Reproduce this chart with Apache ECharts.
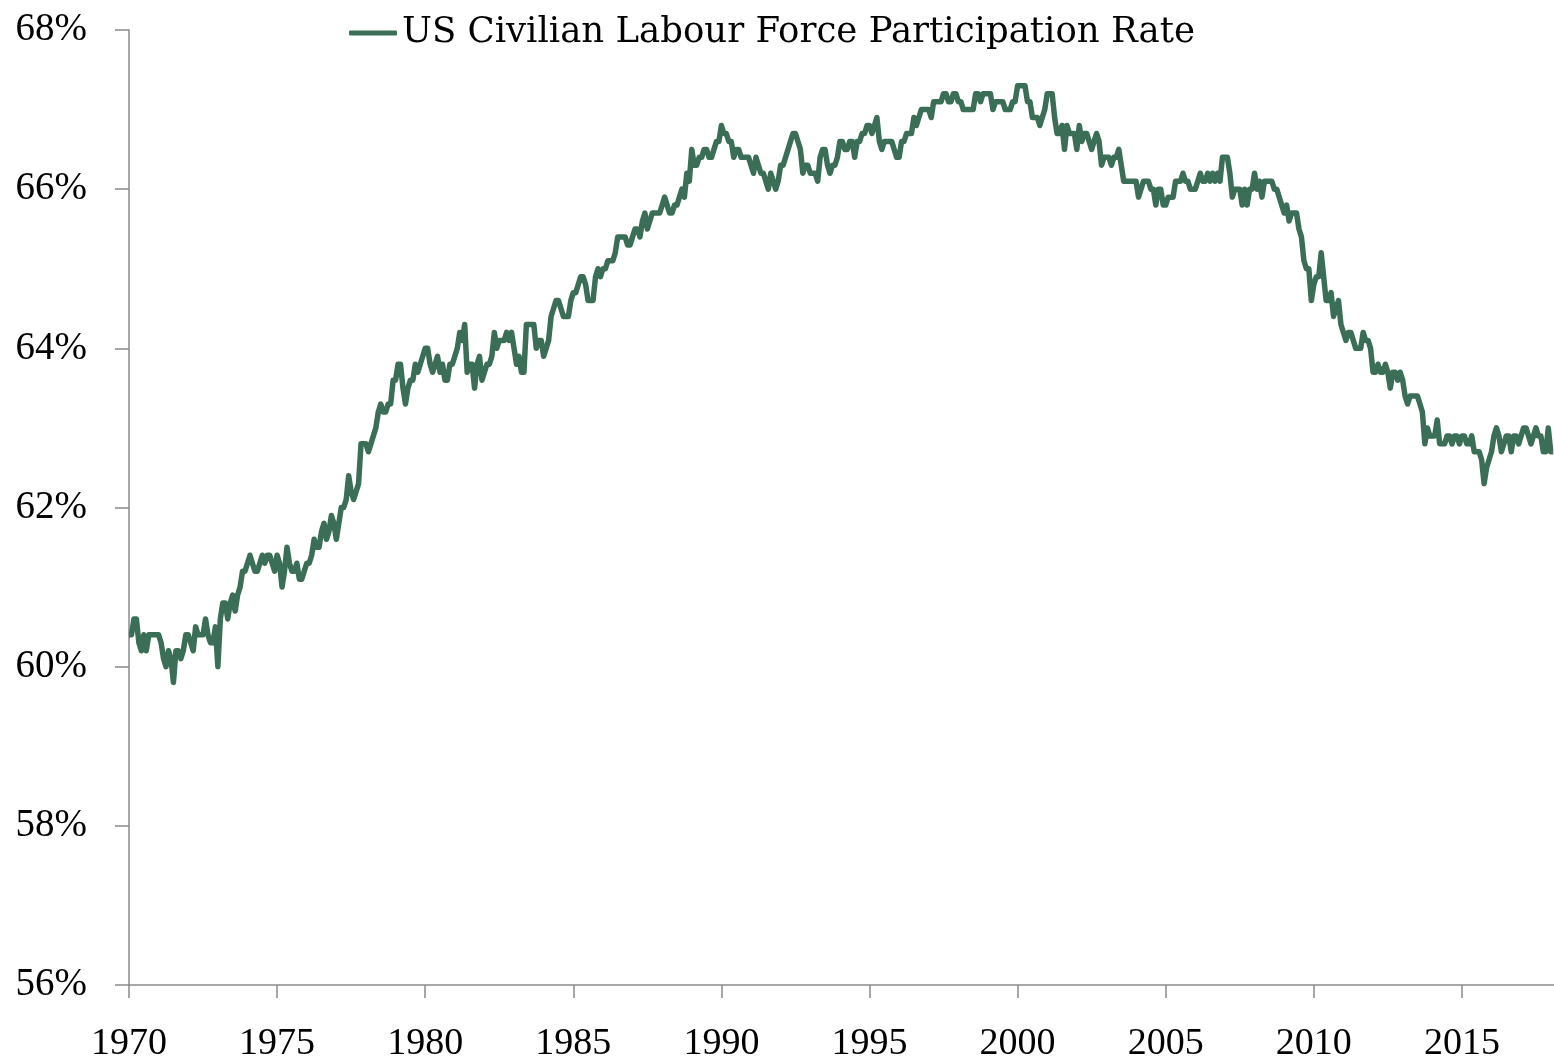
<!DOCTYPE html>
<html>
<head>
<meta charset="utf-8">
<script src="https://cdn.jsdelivr.net/npm/echarts@6/dist/echarts.min.js"></script>
<style>
  html, body { margin: 0; padding: 0; background: #fff; }
  #main { width: 1554px; height: 1063px; }
</style>
</head>
<body>
<div id="main"></div>
<script>
// Monthly participation rate (%), starting January 1970
var startYear = 1970;
var seriesName = 'US Civilian Labour Force Participation Rate';

var rate1970s = [
  60.4, 60.4, 60.6, 60.6, 60.3, 60.2, 60.4, 60.2, 60.4, 60.4, 60.4, 60.4,
  60.4, 60.3, 60.1, 60.0, 60.2, 60.1, 59.8, 60.2, 60.2, 60.1, 60.2, 60.4,
  60.4, 60.3, 60.2, 60.5, 60.4, 60.4, 60.4, 60.6, 60.4, 60.3, 60.3, 60.5,
  60.0, 60.6, 60.8, 60.8, 60.6, 60.8, 60.9, 60.7, 60.9, 61.0, 61.2, 61.2,
  61.3, 61.4, 61.3, 61.2, 61.2, 61.3, 61.4, 61.3, 61.4, 61.4, 61.3, 61.2,
  61.4, 61.3, 61.0, 61.2, 61.5, 61.3, 61.2, 61.2, 61.3, 61.1, 61.1, 61.2,
  61.3, 61.3, 61.4, 61.6, 61.5, 61.5, 61.7, 61.8, 61.6, 61.7, 61.9, 61.8,
  61.6, 61.8, 62.0, 62.0, 62.1, 62.4, 62.2, 62.1, 62.2, 62.3, 62.8, 62.8,
  62.8, 62.7, 62.8, 62.9, 63.0, 63.2, 63.3, 63.2, 63.2, 63.3, 63.3, 63.6,
  63.6, 63.8, 63.8, 63.5, 63.3, 63.5, 63.6, 63.6, 63.8, 63.7, 63.8, 63.9
];

var rate1980s = [
  64.0, 64.0, 63.8, 63.7, 63.8, 63.9, 63.7, 63.8, 63.6, 63.6, 63.8, 63.8,
  63.9, 64.0, 64.2, 64.1, 64.3, 63.7, 63.8, 63.8, 63.5, 63.8, 63.9, 63.6,
  63.7, 63.8, 63.8, 63.9, 64.2, 64.0, 64.1, 64.1, 64.1, 64.2, 64.1, 64.2,
  64.0, 63.8, 63.9, 63.7, 63.7, 64.3, 64.3, 64.3, 64.3, 64.0, 64.1, 64.1,
  63.9, 64.0, 64.1, 64.4, 64.5, 64.6, 64.6, 64.5, 64.4, 64.4, 64.4, 64.6,
  64.7, 64.7, 64.8, 64.9, 64.9, 64.8, 64.6, 64.6, 64.6, 64.9, 65.0, 64.9,
  65.0, 65.0, 65.1, 65.1, 65.1, 65.2, 65.4, 65.4, 65.4, 65.4, 65.3, 65.3,
  65.4, 65.5, 65.5, 65.4, 65.6, 65.7, 65.5, 65.6, 65.7, 65.7, 65.7, 65.7,
  65.8, 65.9, 65.8, 65.7, 65.7, 65.8, 65.8, 65.9, 66.0, 65.9, 66.2, 66.1,
  66.5, 66.3, 66.3, 66.4, 66.4, 66.5, 66.5, 66.4, 66.4, 66.5, 66.6, 66.6
];

var rate1990s = [
  66.8, 66.7, 66.7, 66.6, 66.6, 66.4, 66.5, 66.5, 66.4, 66.4, 66.4, 66.4,
  66.3, 66.2, 66.4, 66.3, 66.2, 66.2, 66.1, 66.0, 66.2, 66.1, 66.0, 66.1,
  66.3, 66.3, 66.4, 66.5, 66.6, 66.7, 66.7, 66.6, 66.5, 66.2, 66.3, 66.3,
  66.2, 66.2, 66.2, 66.1, 66.4, 66.5, 66.5, 66.3, 66.2, 66.3, 66.3, 66.4,
  66.6, 66.6, 66.5, 66.5, 66.6, 66.6, 66.4, 66.6, 66.6, 66.7, 66.7, 66.8,
  66.8, 66.7, 66.8, 66.9, 66.6, 66.5, 66.6, 66.6, 66.6, 66.6, 66.5, 66.4,
  66.4, 66.6, 66.6, 66.7, 66.7, 66.7, 66.9, 66.8, 66.9, 67.0, 67.0, 67.0,
  67.0, 66.9, 67.1, 67.1, 67.1, 67.1, 67.2, 67.2, 67.1, 67.1, 67.2, 67.2,
  67.1, 67.1, 67.0, 67.0, 67.0, 67.0, 67.0, 67.2, 67.2, 67.1, 67.2, 67.2,
  67.2, 67.2, 67.0, 67.1, 67.1, 67.1, 67.1, 67.0, 67.0, 67.0, 67.1, 67.1
];

var rate2000s = [
  67.3, 67.3, 67.3, 67.3, 67.1, 67.1, 66.9, 66.9, 66.9, 66.8, 66.9, 67.0,
  67.2, 67.2, 67.2, 66.9, 66.7, 66.7, 66.8, 66.5, 66.8, 66.7, 66.7, 66.7,
  66.5, 66.8, 66.6, 66.7, 66.7, 66.6, 66.5, 66.6, 66.7, 66.6, 66.3, 66.4,
  66.4, 66.4, 66.3, 66.4, 66.4, 66.5, 66.3, 66.1, 66.1, 66.1, 66.1, 66.1,
  66.1, 65.9, 66.0, 66.1, 66.1, 66.1, 66.0, 66.0, 65.8, 66.0, 66.0, 65.8,
  65.8, 65.9, 65.9, 65.9, 66.1, 66.1, 66.1, 66.2, 66.1, 66.1, 66.0, 66.0,
  66.0, 66.1, 66.2, 66.1, 66.1, 66.2, 66.1, 66.2, 66.1, 66.2, 66.1, 66.4,
  66.4, 66.4, 66.2, 65.9, 66.0, 66.0, 66.0, 65.8, 66.0, 65.8, 66.0, 66.0,
  66.2, 66.0, 66.1, 65.9, 66.1, 66.1, 66.1, 66.1, 66.0, 66.0, 65.9, 65.8,
  65.7, 65.8, 65.6, 65.7, 65.7, 65.7, 65.5, 65.4, 65.1, 65.0, 65.0, 64.6
];

var rate2010s = [
  64.8, 64.9, 64.9, 65.2, 64.9, 64.6, 64.6, 64.7, 64.4, 64.5, 64.6, 64.3,
  64.2, 64.1, 64.2, 64.2, 64.1, 64.0, 64.0, 64.0, 64.2, 64.1, 64.1, 64.0,
  63.7, 63.7, 63.8, 63.7, 63.7, 63.8, 63.7, 63.5, 63.7, 63.7, 63.6, 63.7,
  63.6, 63.4, 63.3, 63.4, 63.4, 63.4, 63.4, 63.3, 63.2, 62.8, 63.0, 62.9,
  62.9, 62.9, 63.1, 62.8, 62.8, 62.8, 62.9, 62.9, 62.8, 62.9, 62.9, 62.8,
  62.9, 62.9, 62.8, 62.8, 62.9, 62.7, 62.7, 62.7, 62.6, 62.3, 62.5, 62.6,
  62.7, 62.9, 63.0, 62.9, 62.7, 62.8, 62.9, 62.9, 62.7, 62.9, 62.9, 62.8,
  62.9, 63.0, 63.0, 62.9, 62.8, 62.9, 63.0, 62.9, 62.9, 62.7, 62.7, 63.0,
  62.7, 62.7
];

var yearTicks = [1970, 1975, 1980, 1985, 1990, 1995, 2000, 2005, 2010, 2015];
var rateTicks = [56, 58, 60, 62, 64, 66, 68];

var allRates = rate1970s.concat(rate1980s, rate1990s, rate2000s, rate2010s);
var lineData = allRates.map(function (v, i) { return [startYear + i / 12, v]; });

var fontFamily = '"Palatino Linotype", "Book Antiqua", Palatino, "Liberation Serif", serif';
var legendFont = '"Palatino Linotype", "Book Antiqua", "DejaVu Serif", serif';
var axisGrey = '#8a8a8a';
var lineColor = '#3b6e56';

var myChart = echarts.init(document.getElementById('main'));

var option = {
  animation: false,
  backgroundColor: '#fff',
  textStyle: { fontFamily: fontFamily },
  legend: {
    data: [seriesName],
    left: 344,
    top: 10,
    itemWidth: 48,
    itemHeight: 5,
    icon: 'roundRect',
    textStyle: { fontFamily: legendFont, fontSize: 35.5, color: '#000' }
  },
  grid: { left: 129, right: 0, top: 30, bottom: 75 },
  xAxis: {
    type: 'value',
    min: 1970,
    max: 2018.11,
    interval: 5,
    axisLine: { lineStyle: { color: axisGrey, width: 1.5 } },
    axisTick: { show: true, length: 13, customValues: yearTicks, lineStyle: { color: axisGrey, width: 1.5 } },
    axisLabel: {
      customValues: yearTicks,
      margin: 40,
      fontSize: 38,
      color: '#000',
      fontFamily: fontFamily,
      formatter: function (v) { return String(v); }
    },
    splitLine: { show: false }
  },
  yAxis: {
    type: 'value',
    min: rateTicks[0],
    max: rateTicks[rateTicks.length - 1],
    interval: 2,
    axisLine: { show: true, lineStyle: { color: axisGrey, width: 1.5 } },
    axisTick: { show: true, length: 14, lineStyle: { color: axisGrey, width: 1.5 } },
    axisLabel: {
      margin: 42,
      fontSize: 39,
      color: '#000',
      fontFamily: fontFamily,
      formatter: function (v) { return v + '%'; }
    },
    splitLine: { show: false }
  },
  series: [
    {
      name: seriesName,
      type: 'line',
      data: lineData,
      showSymbol: false,
      symbol: 'none',
      lineStyle: { color: lineColor, width: 5.5, join: 'round' },
      itemStyle: { color: lineColor }
    }
  ]
};

myChart.setOption(option);
</script>
</body>
</html>
